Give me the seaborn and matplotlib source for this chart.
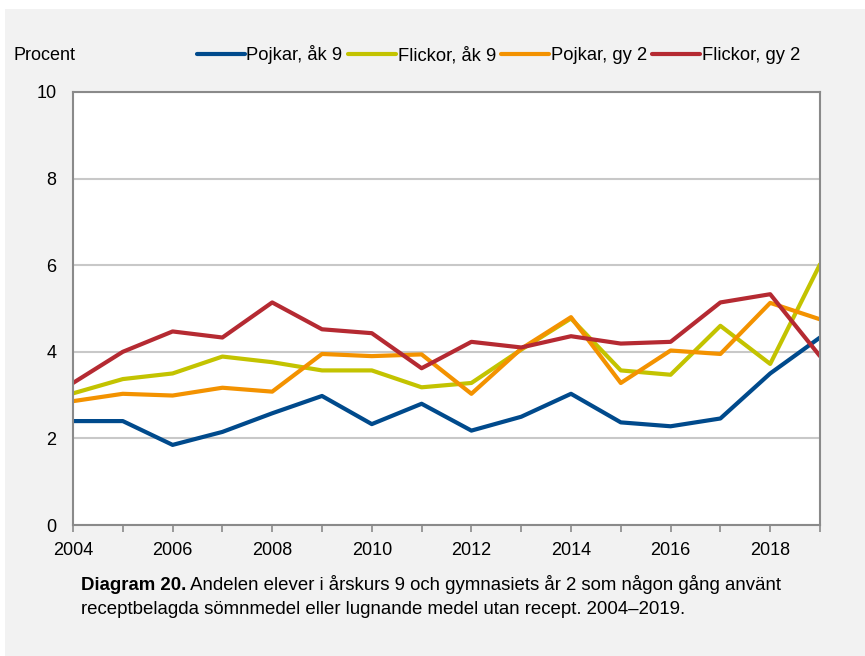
import pandas as pd
import matplotlib.pyplot as plt
import seaborn as sns
from matplotlib.patches import Rectangle

sns.set_theme(style="white")
plt.rcParams['font.family'] = ['Liberation Sans', 'DejaVu Sans']
plt.rcParams['text.color'] = 'black'

years = list(range(2004, 2020))
pojkar_ak9 = [2.4, 2.4, 1.85, 2.15, 2.58, 2.98, 2.33, 2.8, 2.18, 2.5, 3.03, 2.37, 2.28, 2.46, 3.5, 4.33]
flickor_ak9 = [3.04, 3.37, 3.5, 3.89, 3.76, 3.57, 3.57, 3.18, 3.28, 4.05, 4.77, 3.57, 3.47, 4.6, 3.72, 6.02]
pojkar_gy2 = [2.86, 3.03, 2.99, 3.17, 3.08, 3.95, 3.9, 3.94, 3.03, 4.07, 4.8, 3.28, 4.03, 3.95, 5.13, 4.75]
flickor_gy2 = [3.28, 4.0, 4.47, 4.33, 5.14, 4.52, 4.43, 3.62, 4.23, 4.1, 4.36, 4.19, 4.23, 5.14, 5.33, 3.9]

series = ["Pojkar, åk 9", "Flickor, åk 9", "Pojkar, gy 2", "Flickor, gy 2"]
colors = ["#004a8c", "#c3c300", "#f39200", "#b52a32"]

df = pd.DataFrame({
    "År": years * 4,
    "Procent": pojkar_ak9 + flickor_ak9 + pojkar_gy2 + flickor_gy2,
    "Grupp": [s for s in series for _ in years],
})

fig = plt.figure(figsize=(8.65, 6.56), dpi=100)
fig.patch.set_facecolor("white")
fig.patches.append(Rectangle((5 / 865, 0), 1, 1 - 9 / 656, transform=fig.transFigure,
                             facecolor="#f2f2f2", edgecolor="none", zorder=-10))

ax = fig.add_axes([73 / 865, 1 - 525 / 656, (820 - 73) / 865, (525 - 92) / 656])
ax.set_facecolor("white")

sns.lineplot(data=df, x="År", y="Procent", hue="Grupp", hue_order=series,
             palette=colors, linewidth=3, ax=ax, legend=True)

ax.set_xlim(2004, 2019)
ax.set_ylim(0, 10)
ax.set_yticks([0, 2, 4, 6, 8, 10])
ax.set_xticks(years)
ax.set_xticklabels([str(y) if y % 2 == 0 else "" for y in years])
ax.yaxis.grid(True, color="#c8c8c8", linewidth=1.5)
ax.set_axisbelow(True)
for sp in ax.spines.values():
    sp.set_color("#8a8a8a")
    sp.set_linewidth(1.5)
ax.tick_params(axis="y", length=0, pad=12, labelsize=13, colors="black")
ax.tick_params(axis="x", length=5, width=1.2, color="#8a8a8a", direction="out",
               pad=7, labelsize=13, labelcolor="black", bottom=True)
ax.set_xlabel("")
ax.set_ylabel("")

handles, labels = ax.get_legend_handles_labels()
ax.get_legend().remove()
fig.legend(handles, labels, loc="center left", bbox_to_anchor=(197 / 865, 1 - 55 / 656),
           ncol=4, frameon=False, fontsize=13.2, handlelength=2.6, handletextpad=0.1,
           columnspacing=0.3, borderpad=0, borderaxespad=0, labelcolor="black")

fig.text(14 / 865, 1 - 55 / 656, "Procent", fontsize=13, va="center", ha="left")

# caption: bold lead-in followed by regular text
y1 = 1 - 590 / 656
y2 = 1 - 614 / 656
bold = fig.text(81 / 865, y1, "Diagram 20.", fontsize=13.4, fontweight="bold",
                va="baseline", ha="left")
fig.canvas.draw()
bb = bold.get_window_extent().transformed(fig.transFigure.inverted())
fig.text(bb.x1, y1, " Andelen elever i årskurs 9 och gymnasiets år 2 som någon gång använt",
         fontsize=13.4, va="baseline", ha="left")
fig.text(81 / 865, y2, "receptbelagda sömnmedel eller lugnande medel utan recept. 2004–2019.",
         fontsize=13.4, va="baseline", ha="left")

fig.savefig("out.png", dpi=100)
